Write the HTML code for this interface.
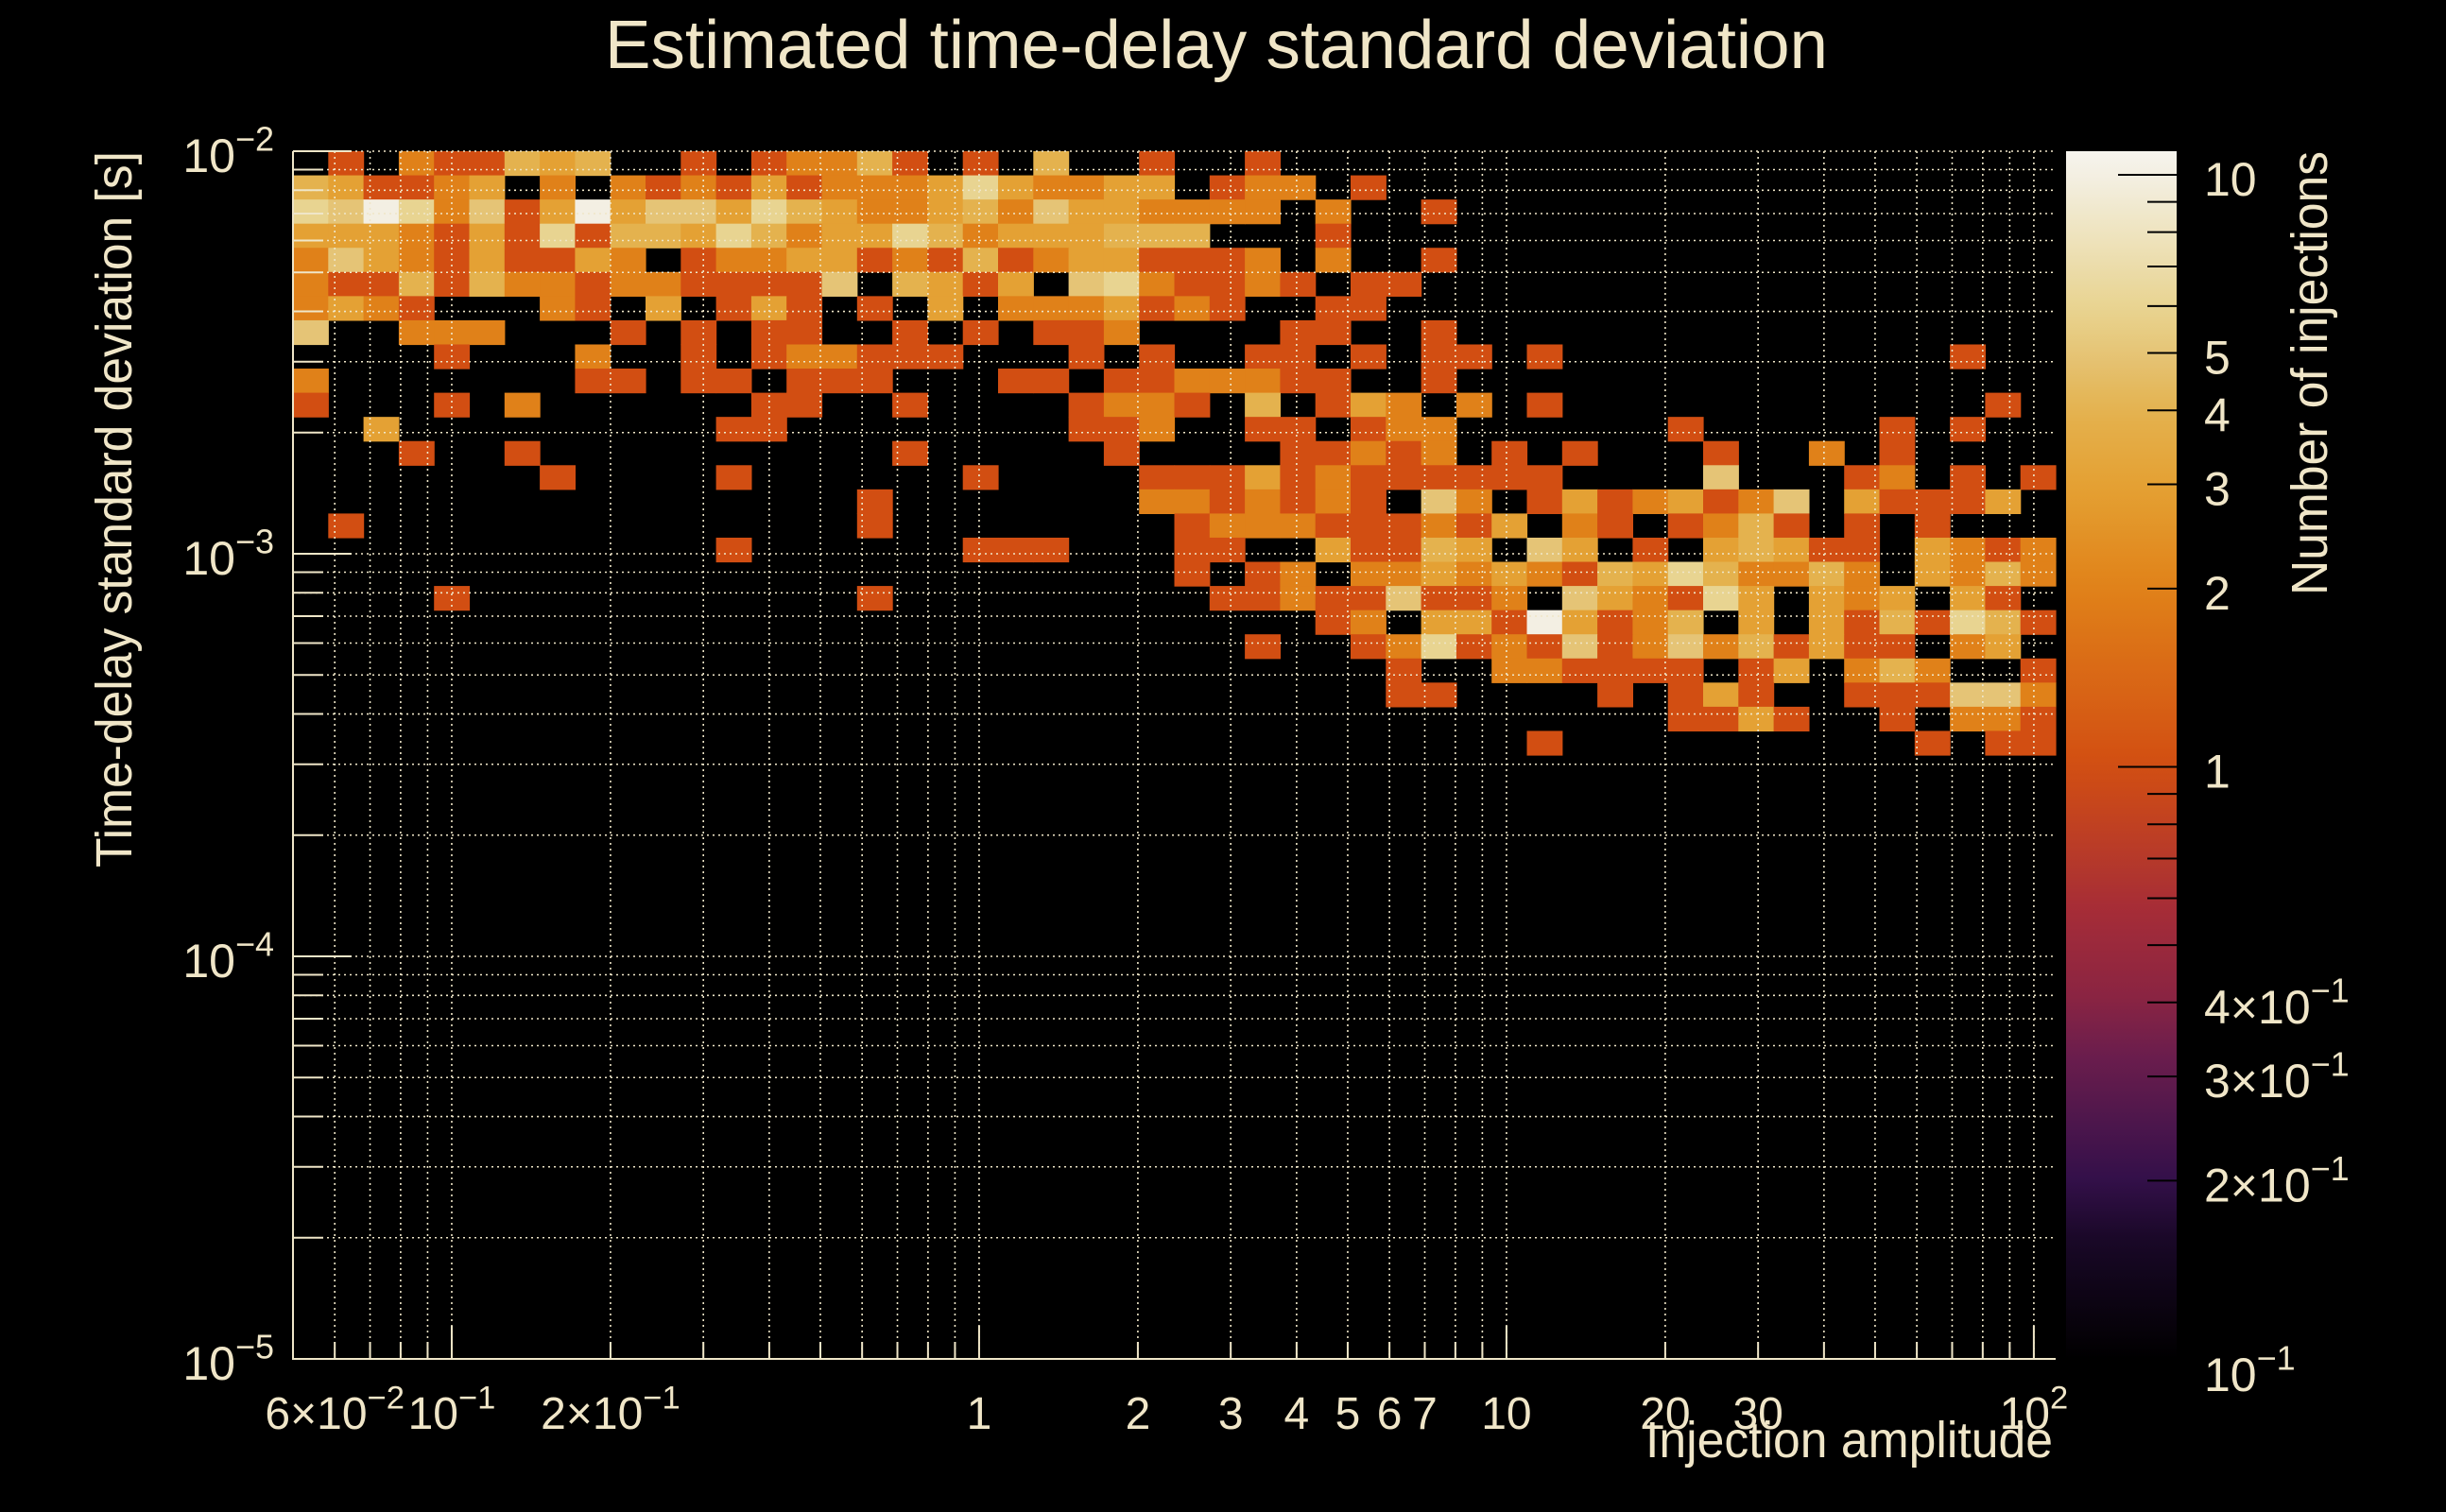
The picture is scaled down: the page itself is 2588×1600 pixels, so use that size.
<!DOCTYPE html>
<html>
<head>
<meta charset="utf-8">
<style>
  html, body { margin: 0; padding: 0; background: #000; }
  svg { display: block; }
  text { font-family: "Liberation Sans", "DejaVu Sans", sans-serif; fill: #f0e6c8; }
</style>
</head>
<body>
<svg id="chart" xmlns="http://www.w3.org/2000/svg" width="2588" height="1600" viewBox="0 0 2588 1600">
  <rect x="0" y="0" width="2588" height="1600" fill="#000"/>
  <text x="1287" y="72" text-anchor="middle" font-size="72" textLength="1294" lengthAdjust="spacingAndGlyphs">Estimated time-delay standard deviation</text>
  <g id="cells"></g>
  <g id="grid"></g>
  <g id="axes"></g>
  <g id="cbar"></g>
  <text transform="translate(139,918) rotate(-90)" font-size="54" textLength="758" lengthAdjust="spacingAndGlyphs">Time-delay standard deviation [s]</text>
  <text x="2172" y="1542" text-anchor="end" font-size="54" textLength="431" lengthAdjust="spacingAndGlyphs">Injection amplitude</text>
  <text transform="translate(2462,630) rotate(-90)" font-size="54" textLength="470" lengthAdjust="spacingAndGlyphs">Number of injections</text>
</svg>
<script>
// ---- data ----
const xMin = 0.05, xMax = 110;
const yMin = 1e-5, yMax = 1e-2;
const nBinsX = 50, nBinsY = 50;
const zMin = 0.1, zMax = 10.96;
// counts per y-bin row (row 0 = top), in 10-column chunks; digit = count, 9 => 10
const countRows = [
  ["0102114340","0101224101","0400100100","0000000000","0000000000"],
  ["4311230202","1213122236","3223301220","1000000000","0000000000"],
  ["6596251393","5536432234","2533222202","0010000000","0000000000"],
  ["3332131614","4364233642","3334440001","0000000000","0000000000"],
  ["2532131132","0122331214","1233111202","0010000000","0000000000"],
  ["2114142212","2111150431","3056211210","1100000000","0000000000"],
  ["2321000210","3013101030","2223121001","1000000000","0000000000"],
  ["5002220001","0101100101","0112000011","0010000000","0000000000"],
  ["0000100020","0101221110","0010100110","1011010000","0000000100"],
  ["2000000011","0110111000","1101122211","0010000000","0000000000"],
  ["1000102000","0001100100","0012210401","3202010000","0000000010"],
  ["0030000000","0011000000","0011200110","1220000001","0000010100"],
  ["0001001000","0000000100","0001000011","2120101000","1002010000"],
  ["0000000100","0010000001","0000111312","1111110000","5000120101"],
  ["0000000000","0000001000","0000221212","1052013123","1250311130"],
  ["0100000000","0000001000","0000012221","1121302101","2410101000"],
  ["0000000000","0010000001","1100011003","1143053010","3431103212"],
  ["0000000000","0000000000","0000010120","2232321436","4224203242"],
  ["0000100000","0000001000","0000001121","1511205321","6303230310"],
  ["0000000000","0000000000","0000000001","2033193124","0303141641"],
  ["0000000000","0000000000","0000000100","1261215125","2413110230"],
  ["0000000000","0000000000","0000000000","0100221111","0130242001"],
  ["0000000000","0000000000","0000000000","0110000101","3100111552"],
  ["0000000000","0000000000","0000000000","0000000001","1310010221"],
  ["0000000000","0000000000","0000000000","0000010000","0000001011"]
];
const xLabelVals = [0.06, 0.1, 0.2, 1, 2, 3, 4, 5, 6, 7, 10, 20, 30, 100];
const xLabelMant = ["6", "", "2", "1", "2", "3", "4", "5", "6", "7", "10", "20", "30", ""];
const xLabelExp  = ["−2", "−1", "−1", "", "", "", "", "", "", "", "", "", "", "2"];
const yLabelVals = [1e-2, 1e-3, 1e-4, 1e-5];
const yLabelExp = ["−2", "−3", "−4", "−5"];
const zLabelVals = [10, 5, 4, 3, 2, 1, 0.4, 0.3, 0.2, 0.1];
const zLabelMant = ["10", "5", "4", "3", "2", "1", "4", "3", "2", ""];
const zLabelExp  = ["", "", "", "", "", "", "−1", "−1", "−1", "−1"];

// ---- geometry ----
const PL = 310, PR = 2175, PT = 160, PB = 1438;
const CBL = 2186, CBR = 2303;
const NS = "http://www.w3.org/2000/svg";
const lx = v => PL + (Math.log10(v) - Math.log10(xMin)) / (Math.log10(xMax) - Math.log10(xMin)) * (PR - PL);
const ly = v => PB - (Math.log10(v) - Math.log10(yMin)) / (Math.log10(yMax) - Math.log10(yMin)) * (PB - PT);
const lz = v => PB - (Math.log10(v) - Math.log10(zMin)) / (Math.log10(zMax) - Math.log10(zMin)) * (PB - PT);
const stops = [
  [0, [0,0,0]], [0.1, [26,8,40]], [0.15, [52,16,74]], [0.25, [106,29,77]], [0.3, [138,36,66]],
  [0.37, [165,44,56]], [0.49, [210,78,18]], [0.64, [224,130,25]], [0.72, [228,160,50]],
  [0.785, [228,178,78]], [0.83, [229,195,116]], [0.87, [232,212,144]], [0.98, [243,239,227]], [1, [246,244,238]]
];
function colorAt(t) {
  t = Math.max(0, Math.min(1, t));
  for (let i = 1; i < stops.length; i++) {
    if (t <= stops[i][0]) {
      const a = stops[i-1], b = stops[i];
      const f = (t - a[0]) / (b[0] - a[0]);
      const c = a[1].map((v, k) => Math.round(v + (b[1][k] - v) * f));
      return `rgb(${c[0]},${c[1]},${c[2]})`;
    }
  }
  return "rgb(246,244,238)";
}
const zColor = v => colorAt((Math.log10(v) - Math.log10(zMin)) / (Math.log10(zMax) - Math.log10(zMin)));
function mk(tag, attrs, parent) {
  const el = document.createElementNS(NS, tag);
  for (const k in attrs) el.setAttribute(k, attrs[k]);
  parent.appendChild(el);
  return el;
}
function supLabel(parent, x, y, mant, exp, anchor, size) {
  const t = mk("text", { x: x, y: y, "text-anchor": anchor, "font-size": size }, parent);
  let s = "";
  if (mant !== "" && exp !== "") s = mant + "×10";
  else if (exp !== "") s = "10";
  else s = mant;
  t.appendChild(document.createTextNode(s));
  if (exp !== "") {
    const ts = mk("tspan", { dy: -size * 0.45, "font-size": size * 0.72 }, t);
    ts.textContent = exp;
  }
  return t;
}

// ---- cells ----
const cells = document.getElementById("cells");
const lxMin = Math.log10(xMin), lxMax = Math.log10(xMax);
const lyMin = Math.log10(yMin), lyMax = Math.log10(yMax);
countRows.forEach((chunks, r) => {
  const row = chunks.join("");
  for (let c = 0; c < nBinsX; c++) {
    const d = +row[c];
    if (!d) continue;
    const count = d === 9 ? 10 : d;
    const x0 = Math.pow(10, lxMin + c * (lxMax - lxMin) / nBinsX);
    const x1 = Math.pow(10, lxMin + (c + 1) * (lxMax - lxMin) / nBinsX);
    const yTop = Math.pow(10, lyMax - r * (lyMax - lyMin) / nBinsY);
    const yBot = Math.pow(10, lyMax - (r + 1) * (lyMax - lyMin) / nBinsY);
    const rect = mk("rect", { x: lx(x0), y: ly(yTop), width: lx(x1) - lx(x0) + 0.6, height: ly(yBot) - ly(yTop) + 0.6, fill: zColor(count) }, cells);
    
    
  }
});

// ---- grid ----
const grid = document.getElementById("grid");
const gs = { stroke: "#efe6c8", "stroke-width": 1.6, "stroke-dasharray": "2 4" };
for (let e = -2; e <= 2; e++) {
  for (let m = 1; m <= 9; m++) {
    const v = m * Math.pow(10, e);
    if (v < xMin || v > xMax) continue;
    const x = lx(v);
    const l = mk("line", Object.assign({ x1: x, x2: x, y1: PT, y2: PB }, gs), grid);
    
    
  }
}
for (let e = -5; e <= -2; e++) {
  for (let m = 1; m <= 9; m++) {
    const v = m * Math.pow(10, e);
    if (v < yMin * 0.999 || v > yMax * 1.001) continue;
    const y = ly(v);
    const l = mk("line", Object.assign({ x1: PL, x2: PR, y1: y, y2: y }, gs), grid);
    
    
  }
}

// ---- axes ----
const axes = document.getElementById("axes");
const as = { stroke: "#efe6c8", "stroke-width": 2 };
let a1 = mk("line", Object.assign({ x1: PL, x2: PL, y1: PT, y2: PB + 1 }, as), axes);


let a2 = mk("line", Object.assign({ x1: PL, x2: PR, y1: PB, y2: PB }, as), axes);


for (let e = -2; e <= 2; e++) {
  for (let m = 1; m <= 9; m++) {
    const v = m * Math.pow(10, e);
    if (v < xMin || v > xMax) continue;
    const x = lx(v);
    const len = m === 1 ? 35 : 18;
    const t = mk("line", Object.assign({ x1: x, x2: x, y1: PB, y2: PB - len }, as), axes);
    
    
  }
}
for (let e = -5; e <= -2; e++) {
  for (let m = 1; m <= 9; m++) {
    const v = m * Math.pow(10, e);
    if (v > yMax * 1.001) continue;
    const y = ly(v);
    const len = m === 1 ? 62 : 32;
    const t = mk("line", Object.assign({ x1: PL, x2: PL + len, y1: y, y2: y }, as), axes);
    
    
  }
}
xLabelVals.forEach((v, i) => {
  const t = supLabel(axes, lx(v), 1512, xLabelMant[i], xLabelExp[i], "middle", 48);
  
  
});
yLabelVals.forEach((v, i) => {
  const t = supLabel(axes, 290, ly(v) + 22, "", yLabelExp[i], "end", 50);
  
  
});

// ---- color bar ----
const cbar = document.getElementById("cbar");
const defs = mk("defs", {}, cbar);
const grad = mk("linearGradient", { id: "cbg", x1: 0, y1: 1, x2: 0, y2: 0 }, defs);
for (let i = 0; i <= 40; i++) {
  mk("stop", { offset: i / 40, "stop-color": colorAt(i / 40) }, grad);
}
const cbRect = mk("rect", { x: CBL, y: PT, width: CBR - CBL, height: PB - PT, fill: "url(#cbg)" }, cbar);


for (let e = -1; e <= 1; e++) {
  for (let m = 1; m <= 9; m++) {
    const v = m * Math.pow(10, e);
    if (v < zMin || v > zMax) continue;
    const y = lz(v);
    const len = m === 1 ? 62 : 31;
    const t = mk("line", { x1: CBR - len, x2: CBR, y1: y, y2: y, stroke: "#000", "stroke-width": 2 }, cbar);
    
    
  }
}
zLabelVals.forEach((v, i) => {
  let y = lz(v) + 22;
  if (v === 0.1) y = lz(v) + 34;
  const t = supLabel(cbar, 2332, y, zLabelMant[i], zLabelExp[i], "start", 50);
  
  
});
</script>
</body>
</html>
